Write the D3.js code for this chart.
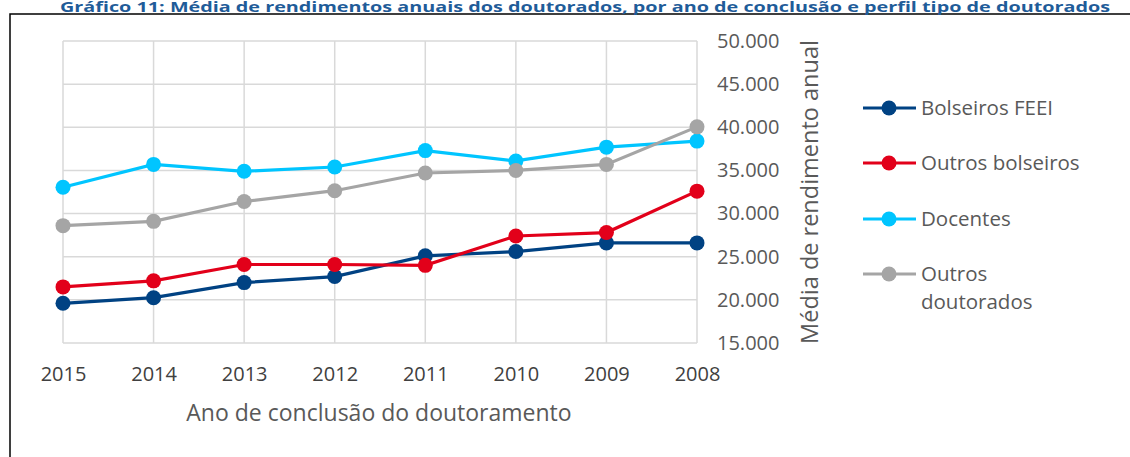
<!DOCTYPE html>
<html>
<head>
<meta charset="utf-8">
<script src="https://cdn.jsdelivr.net/npm/d3@7"></script>
<style>
  body { margin: 0; background: #fff; }
  text { font-family: "Open Sans", "Noto Sans", sans-serif; }
</style>
</head>
<body>
<svg id="chart" width="1130" height="457"></svg>
<script>
// years as on the x axis (reversed order, like the original)
const years = ['2015', '2014', '2013', '2012', '2011', '2010', '2009', '2008'];

const bolseirosFEEI   = [19600, 20250, 22000, 22700, 25100, 25600, 26600, 26600];
const outrosBolseiros = [21500, 22200, 24100, 24100, 24000, 27400, 27800, 32600];
const docentes        = [33050, 35700, 34900, 35400, 37300, 36100, 37700, 38400];
const outrosDout      = [28600, 29100, 31400, 32650, 34700, 35000, 35700, 40050];

const seriesNames  = ['Bolseiros FEEI', 'Outros bolseiros', 'Docentes', 'Outros doutorados'];
const seriesColors = ['#004283', '#e2001a', '#00c5ff', '#a5a5a5'];
const yTicks = [15000, 20000, 25000, 30000, 35000, 40000, 45000, 50000];

const series = [bolseirosFEEI, outrosBolseiros, docentes, outrosDout].map((v, i) => ({
    name: seriesNames[i], color: seriesColors[i], values: v
}));

const svg = d3.select('#chart');

// outer frame and title
svg.append('rect')
    .attr('x', 10).attr('y', 14)
    .attr('width', 1140).attr('height', 460)
    .attr('fill', 'none').attr('stroke', '#000').attr('stroke-width', 1.5);

svg.append('text')
    .attr('x', 585).attr('y', 12)
    .attr('text-anchor', 'middle')
    .attr('font-weight', 'bold')
    .attr('font-size', 13.5)
    .attr('textLength', 1050)
    .attr('lengthAdjust', 'spacingAndGlyphs')
    .attr('fill', '#1f5c99')
    .text('Gráfico 11: Média de rendimentos anuais dos doutorados, por ano de conclusão e perfil tipo de doutorados');

const x = d3.scalePoint().domain(years).range([63, 697]);
const y = d3.scaleLinear().domain([15000, 50000]).range([343, 41]);

const fmt = d => d3.format(',')(d).replace(/,/g, '.');

// gridlines
svg.append('g')
    .selectAll('line.h')
    .data(yTicks)
    .join('line')
    .attr('x1', 63).attr('x2', 697)
    .attr('y1', d => y(d)).attr('y2', d => y(d))
    .attr('stroke', '#d9d9d9').attr('stroke-width', 1.5);

svg.append('g')
    .selectAll('line.v')
    .data(years)
    .join('line')
    .attr('x1', d => x(d)).attr('x2', d => x(d))
    .attr('y1', y(50000)).attr('y2', y(15000))
    .attr('stroke', '#d9d9d9').attr('stroke-width', 1.5);

// y axis on the right
const yAxis = svg.append('g')
    .attr('transform', 'translate(697,0)')
    .call(d3.axisRight(y).tickValues(yTicks).tickFormat(fmt).tickSize(0).tickPadding(20));
yAxis.select('.domain').remove();
yAxis.selectAll('text')
    .attr('font-size', 20)
    .attr('fill', '#595959')
    .attr('font-family', '"Open Sans", sans-serif');

// x axis labels
const xAxis = svg.append('g')
    .attr('transform', 'translate(0,' + y(15000) + ')')
    .call(d3.axisBottom(x).tickSize(0).tickPadding(24));
xAxis.select('.domain').remove();
xAxis.selectAll('text')
    .attr('font-size', 20)
    .attr('fill', '#404040')
    .attr('font-family', '"Open Sans", sans-serif');

// axis titles
svg.append('text')
    .attr('x', 379).attr('y', 421)
    .attr('text-anchor', 'middle')
    .attr('font-size', 23)
    .attr('fill', '#595959')
    .text('Ano de conclusão do doutoramento');

svg.append('text')
    .attr('transform', 'translate(818,' + y(32500) + ') rotate(-90)')
    .attr('text-anchor', 'middle')
    .attr('font-size', 23.5)
    .attr('fill', '#595959')
    .text('Média de rendimento anual');

// lines and markers
const line = d3.line()
    .x((d, i) => x(years[i]))
    .y(d => y(d));

const g = svg.append('g');
series.forEach(s => {
    g.append('path')
        .attr('d', line(s.values))
        .attr('fill', 'none')
        .attr('stroke', s.color)
        .attr('stroke-width', 3.2);
    g.selectAll(null)
        .data(s.values)
        .join('circle')
        .attr('cx', (d, i) => x(years[i]))
        .attr('cy', d => y(d))
        .attr('r', 7.5)
        .attr('fill', s.color);
});

// legend
const legendY = [108, 163, 219, 274];
const legend = svg.append('g');
series.forEach((s, i) => {
    const row = legend.append('g').attr('transform', 'translate(0,' + legendY[i] + ')');
    row.append('line')
        .attr('x1', 863).attr('x2', 916)
        .attr('stroke', s.color).attr('stroke-width', 3.2);
    row.append('circle')
        .attr('cx', 889).attr('r', 7.5).attr('fill', s.color);
    const t = row.append('text')
        .attr('x', 921).attr('y', 7)
        .attr('font-size', 20.5)
        .attr('fill', '#595959');
    if (s.name === 'Outros doutorados') {
        t.append('tspan').attr('x', 921).text('Outros');
        t.append('tspan').attr('x', 921).attr('dy', 28).text('doutorados');
    } else {
        t.text(s.name);
    }
});
</script>
</body>
</html>
